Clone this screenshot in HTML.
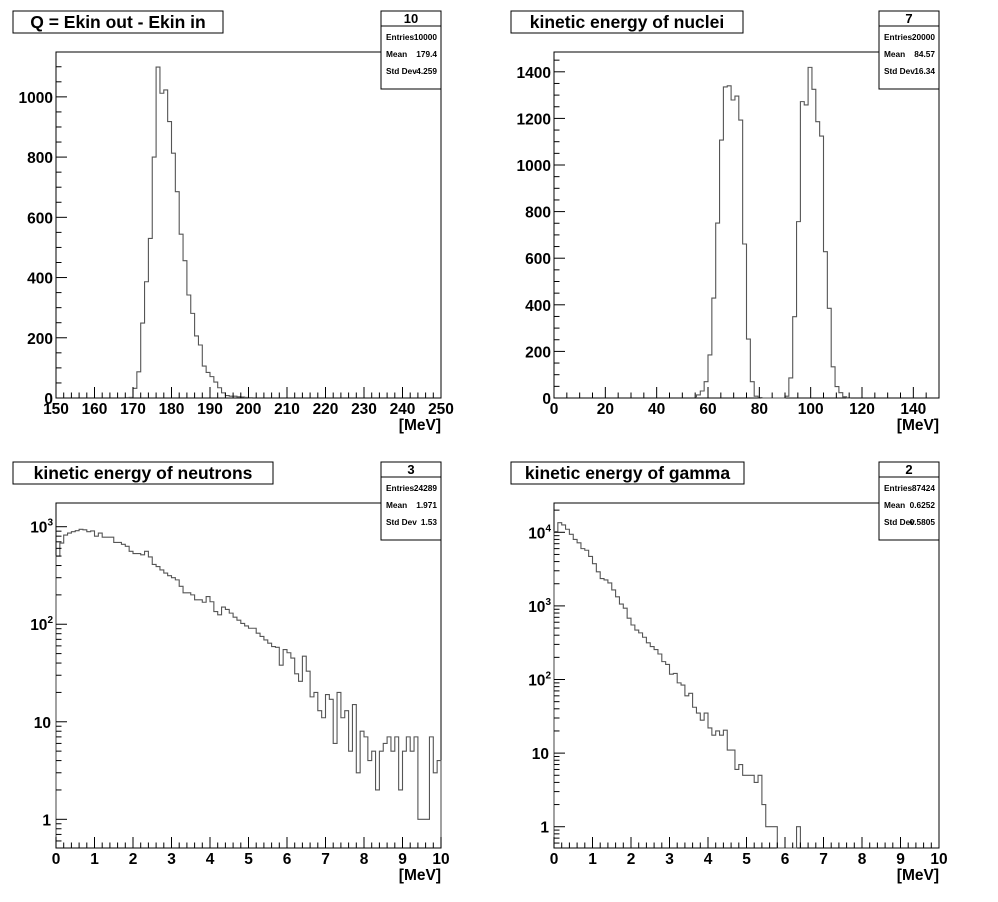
<!DOCTYPE html>
<html><head><meta charset="utf-8">
<style>
html,body{margin:0;padding:0;background:#fff;}
svg{display:block;font-family:"Liberation Sans",Arial,sans-serif;}
</style></head>
<body>
<svg id="c" width="998" height="902" viewBox="0 0 998 902" xmlns="http://www.w3.org/2000/svg"></svg>
<script>
// ---- data ----
const qBinStart = 168;
const qBinWidth = 1;
const qCounts = [1,2,32,87,249,386,530,800,1099,1012,1023,918,813,685,544,456,342,281,206,176,106,85,71,53,34,17,8,6,6,4,3,2,1];

const nucBinStart = 55.5;
const nucBinWidth = 1.5;
const nucCounts = [13,30,70,185,429,751,1107,1335,1340,1279,1296,1193,661,253,70,8,2,0,0,0,0,0,0,8,86,349,757,1272,1258,1419,1325,1186,1124,628,385,134,49,23,5,1];

const neuBinStart = 0;
const neuBinWidth = 0.1;
const neuCounts = [500,680,820,860,890,910,940,930,890,905,800,860,780,780,780,690,690,660,630,560,530,530,515,560,490,410,390,360,335,315,300,285,245,210,210,200,178,178,168,192,170,135,125,150,142,130,118,110,102,96,91,91,81,75,69,64,59,58,38,55,51,45,31,26,47,33,18,20,13,11,19,17,6,20,11,13,5,15,3,8,7,4,5,2,5,6,7,5,7,2,5,7,5,7,1,1,1,7,3,4];

const gamBinStart = 0;
const gamBinWidth = 0.1;
const gamCounts = [10200,13500,12600,11000,9400,8000,7200,6000,5700,4700,3750,2900,2350,2250,2050,1650,1330,1060,930,680,550,470,430,375,315,280,255,222,175,160,118,121,90,84,60,65,42,35,28,35,22,17.5,20,17.5,20.5,11,11,6,7,5,5,5,4,5,2,1,1,1,0,0,0,0,0,1];

const panels = [
 {id:'q', title:'Q = Ekin out - Ekin in', titleW:210, stat:['10','10000','179.4','4.259'],
  x0:56,x1:441,y0:52,y1:398, xmin:150,xmax:250, log:false, ymin:0,ymax:1149,
  xMajor:10,xMinor:2, yMajor:200,yMinor:50,
  start:qBinStart,w:qBinWidth,counts:qCounts},
 {id:'nuclei', title:'kinetic energy of nuclei', titleW:232, stat:['7','20000','84.57','16.34'],
  x0:554,x1:939,y0:52,y1:398, xmin:0,xmax:150, log:false, ymin:0,ymax:1485,
  xMajor:20,xMinor:5, yMajor:200,yMinor:50, xMaxLabel:140,
  start:nucBinStart,w:nucBinWidth,counts:nucCounts},
 {id:'neutrons', title:'kinetic energy of neutrons', titleW:260, stat:['3','24289','1.971','1.53'],
  x0:56,x1:441,y0:503,y1:848, xmin:0,xmax:10, log:true, ymin:0.508,ymax:1750,
  xMajor:1,xMinor:0.2,
  start:neuBinStart,w:neuBinWidth,counts:neuCounts},
 {id:'gamma', title:'kinetic energy of gamma', titleW:233, stat:['2','87424','0.6252','0.5805'],
  x0:554,x1:939,y0:503,y1:848, xmin:0,xmax:10, log:true, ymin:0.514,ymax:25000,
  xMajor:1,xMinor:0.2,
  start:gamBinStart,w:gamBinWidth,counts:gamCounts}
];

const NS='http://www.w3.org/2000/svg';
const svg=document.getElementById('c');
function mk(tag,attrs,parent,text){
  const e=document.createElementNS(NS,tag);
  for(const k in attrs) e.setAttribute(k,attrs[k]);
  if(text!==undefined) e.textContent=text;
  (parent||svg).appendChild(e);
  return e;
}

panels.forEach(p=>{
  const g=mk('g',{});
  
  
  const sx=v=>p.x0+(v-p.xmin)/(p.xmax-p.xmin)*(p.x1-p.x0);
  const sy=v=>{
    if(p.log){
      if(v<=0) return p.y1;
      const t=(Math.log10(v)-Math.log10(p.ymin))/(Math.log10(p.ymax)-Math.log10(p.ymin));
      return Math.max(p.y0, Math.min(p.y1, p.y1-t*(p.y1-p.y0)));
    }
    return p.y1-(v-p.ymin)/(p.ymax-p.ymin)*(p.y1-p.y0);
  };
  const ox = p.x0-56;
  const top = p.y0>100 ? 462 : 11;

  const fr=mk('rect',{x:p.x0,y:p.y0,width:p.x1-p.x0,height:p.y1-p.y0,fill:'none',stroke:'#000','stroke-width':1},g);
  
  

  let d='M'+sx(p.start)+','+p.y1;
  p.counts.forEach((c,i)=>{
    const xa=sx(p.start+i*p.w), xb=sx(p.start+(i+1)*p.w), y=sy(c);
    d+=' L'+xa.toFixed(2)+','+y.toFixed(2)+' L'+xb.toFixed(2)+','+y.toFixed(2);
  });
  d+=' L'+sx(p.start+p.counts.length*p.w).toFixed(2)+','+p.y1;
  const hp=mk('path',{d:d,fill:'none',stroke:'#555','stroke-width':1.1},g);
  
  

  const nMinor=Math.round((p.xmax-p.xmin)/p.xMinor);
  for(let i=0;i<=nMinor;i++){
    const v=p.xmin+i*p.xMinor, x=sx(v);
    const isMaj=Math.abs(v/p.xMajor-Math.round(v/p.xMajor))<1e-6;
    const t=mk('line',{x1:x,x2:x,y1:p.y1,y2:p.y1-(isMaj?11:5.5),stroke:'#000','stroke-width':1},g);
    
    
    if(isMaj && (p.xMaxLabel===undefined || v<=p.xMaxLabel)){
      const lb=mk('text',{x:x,y:p.y1+16,'text-anchor':'middle','font-size':15.5,'font-weight':'bold'},g,String(Math.round(v)));
      
      
    }
  }
  const xt=mk('text',{x:p.x1,y:p.y1+32,'text-anchor':'end','font-size':15.5,'font-weight':'bold'},g,'[MeV]');
  
  

  if(!p.log){
    for(let v=p.ymin; v<=p.ymax; v+=p.yMinor){
      const y=sy(v), isMaj=(v%p.yMajor)===0;
      const t=mk('line',{x1:p.x0,x2:p.x0+(isMaj?11:5.5),y1:y,y2:y,stroke:'#000','stroke-width':1},g);
      
      
      if(isMaj){
        const lb=mk('text',{x:p.x0-3,y:y+6,'text-anchor':'end','font-size':15.5,'font-weight':'bold'},g,String(v));
        
        
      }
    }
  } else {
    const lo=Math.floor(Math.log10(p.ymin)), hi=Math.ceil(Math.log10(p.ymax));
    for(let e=lo;e<=hi;e++){
      for(let m=1;m<10;m++){
        const v=m*Math.pow(10,e);
        if(v<p.ymin||v>p.ymax) continue;
        const y=sy(v);
        const t=mk('line',{x1:p.x0,x2:p.x0+(m===1?11:5.5),y1:y,y2:y,stroke:'#000','stroke-width':1},g);
        
        
        if(m===1){
          const lb=mk('text',{x:p.x0-5,y:y+6,'text-anchor':'end','font-size':15.5,'font-weight':'bold'},g);
          
          
          if(e===0) lb.textContent='1';
          else if(e===1) lb.textContent='10';
          else {
            mk('tspan',{},lb,'10');
            mk('tspan',{dy:-7,'font-size':10},lb,String(e));
            lb.setAttribute('x',p.x0-3);
          }
        }
      }
    }
  }

  const tb=mk('rect',{x:13+ox,y:top,width:p.titleW,height:22,fill:'#fff',stroke:'#000','stroke-width':1},g);
  
  
  const tt=mk('text',{x:13+ox+p.titleW/2,y:top+17,'text-anchor':'middle','font-size':17.5,'font-weight':'bold'},g,p.title);
  
  

  const bx=381+ox, bw=p.x1-bx;
  const sb=mk('rect',{x:bx,y:top,width:bw,height:78,fill:'#fff',stroke:'#000','stroke-width':1},g);
  
  
  mk('line',{x1:bx,x2:bx+bw,y1:top+15,y2:top+15,stroke:'#000','stroke-width':1},g);
  const sh=mk('text',{x:bx+bw/2,y:top+12,'text-anchor':'middle','font-size':13,'font-weight':'bold'},g,p.stat[0]);
  
  
  const labels=['Entries','Mean','Std Dev'];
  labels.forEach((l,i)=>{
    const y=top+29+i*17;
    const a=mk('text',{x:bx+5,y:y,'font-size':8.3,'font-weight':'bold'},g,l);
    
    
    const b=mk('text',{x:bx+bw-4,y:y,'text-anchor':'end','font-size':8.3,'font-weight':'bold'},g,p.stat[i+1]);
    
    
  });
});
</script>
</body></html>
